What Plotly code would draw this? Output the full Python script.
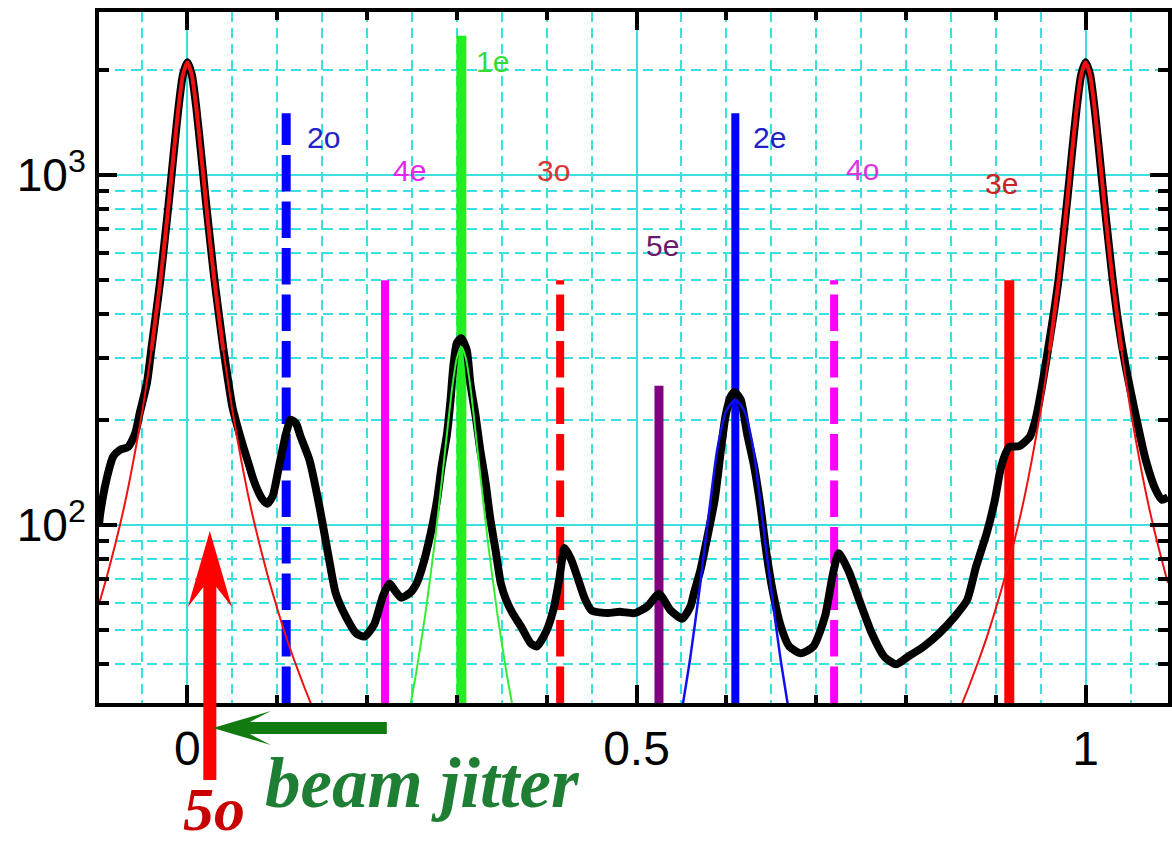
import math
import plotly.graph_objects as go

# ---------------- data ----------------
# measured spectrum (black)
spec_x = [-0.0984, -0.097, -0.090, -0.0825, -0.075, -0.066, -0.058, -0.053, -0.045, -0.040,
          -0.035, -0.030, -0.025, -0.020, -0.015, -0.010, -0.005, 0.000, 0.005, 0.010,
          0.015, 0.020, 0.025, 0.030, 0.035, 0.040, 0.045, 0.050, 0.056, 0.062,
          0.068, 0.073, 0.078, 0.084, 0.089, 0.095, 0.102, 0.110, 0.115, 0.121,
          0.126, 0.136, 0.147, 0.158, 0.165, 0.176, 0.188, 0.197, 0.208, 0.218,
          0.225, 0.231, 0.238, 0.248, 0.255, 0.261, 0.271, 0.278, 0.283, 0.289,
          0.293, 0.296, 0.300, 0.305, 0.311, 0.315, 0.321, 0.326, 0.332, 0.337,
          0.343, 0.349, 0.355, 0.362, 0.372, 0.382, 0.389, 0.400, 0.408, 0.414,
          0.420, 0.427, 0.435, 0.442, 0.450, 0.468, 0.481, 0.498, 0.512, 0.525,
          0.538, 0.551, 0.560, 0.564, 0.571, 0.576, 0.587, 0.594, 0.599, 0.605,
          0.609, 0.616, 0.623, 0.631, 0.638, 0.645, 0.652, 0.660, 0.670, 0.683,
          0.697, 0.710, 0.718, 0.725, 0.736, 0.749, 0.762, 0.776, 0.789, 0.802,
          0.820, 0.837, 0.855, 0.868, 0.878, 0.890, 0.899, 0.906, 0.915, 0.926,
          0.938, 0.945, 0.952, 0.960, 0.965, 0.970, 0.975, 0.980, 0.985, 0.990,
          0.995, 1.000, 1.005, 1.010, 1.015, 1.020, 1.025, 1.030, 1.035, 1.040,
          1.045, 1.056, 1.067, 1.078, 1.085, 1.0917]
spec_y = [100, 108, 135, 157, 164, 167, 183, 209, 255, 320,
          400, 505, 660, 870, 1170, 1550, 1930, 2100, 1930, 1550,
          1170, 870, 660, 505, 400, 320, 262, 218, 190, 168,
          150, 136, 126, 118, 115, 121, 147, 183, 200, 195,
          179, 153, 113, 79, 64, 55, 49, 48, 52, 63,
          68, 65, 62, 64, 68, 75, 95, 118, 147, 182,
          228, 283, 331, 342, 316, 254, 204, 164, 132, 105,
          85, 68, 61, 56, 51, 46, 45, 50, 58, 70,
          86, 80, 70, 62, 57, 56, 56.5, 56, 58.5, 63.5,
          57, 54, 58.5, 64, 74, 85, 118, 164, 204, 233,
          240, 228, 183, 147, 113, 82, 64, 52, 45, 43,
          45, 55, 71, 83, 74, 60, 49, 42, 40, 42,
          45, 49, 55, 61, 76, 95, 118, 147, 167, 168,
          179, 204, 254, 340, 410, 505, 660, 870, 1170, 1550,
          1930, 2100, 1930, 1550, 1170, 870, 660, 505, 400, 330,
          280, 204, 153, 126, 118, 120]

# fit around the 0 peak (red)
fit0_x = [-0.0984, -0.09, -0.08, -0.07, -0.06, -0.05, -0.04, -0.03, -0.025, -0.02,
          -0.015, -0.01, -0.005, 0.0, 0.005, 0.01, 0.015, 0.02, 0.025, 0.03,
          0.04, 0.05, 0.06, 0.07, 0.08, 0.09, 0.10, 0.11, 0.12, 0.13, 0.14]
fit0_y = [59.5, 70.7, 88.7, 114, 153, 213, 315, 501, 653, 869,
          1169, 1551, 1929, 2100, 1929, 1551, 1169, 869, 653, 501,
          315, 213, 153, 114, 88.7, 70.7, 57.7, 47.8, 40.4, 34.5, 29.8]
# fit around the 1 peak (red)
fit1_x = [0.86, 0.87, 0.88, 0.89, 0.90, 0.91, 0.92, 0.93, 0.94, 0.95,
          0.96, 0.97, 0.975, 0.98, 0.985, 0.99, 0.995, 1.0, 1.005, 1.01,
          1.015, 1.02, 1.025, 1.03, 1.04, 1.05, 1.06, 1.07, 1.08, 1.09, 1.0917]
fit1_y = [29.8, 34.5, 40.4, 47.8, 57.7, 70.7, 88.7, 114, 153, 213,
          315, 501, 653, 869, 1169, 1551, 1929, 2100, 1929, 1551,
          1169, 869, 653, 501, 315, 213, 153, 114, 88.7, 70.7, 68.3]
# fit of 1e (green)
fit1e_x = [0.245, 0.255, 0.265, 0.275, 0.285, 0.29, 0.295, 0.30, 0.305,
           0.31, 0.315, 0.32, 0.325, 0.335, 0.345, 0.355, 0.365]
fit1e_y = [27.5, 38.2, 55.9, 87.6, 147, 193, 249, 300, 323,
           300, 249, 193, 147, 87.6, 55.9, 38.2, 27.5]
# fit of 2e (blue)
fit2e_x = [0.55, 0.56, 0.57, 0.58, 0.59, 0.60, 0.61, 0.62, 0.63, 0.64, 0.65, 0.66, 0.67]
fit2e_y = [29, 42, 65, 105, 165, 212, 228, 212, 165, 105, 65, 42, 29]

# harmonic markers
harm_names = ['2o', '4e', '1e', '3o', '5e', '2e', '4o', '3e']
harm_x = [0.11, 0.22, 0.305, 0.415, 0.525, 0.61, 0.72, 0.915]
harm_top = [1500, 500, 2500, 500, 250, 1500, 500, 500]
harm_dashed = [True, False, False, True, False, False, True, False]
harm_color = ['#0000ff', '#ff00ff', '#22ee22', '#ff0000', '#800080', '#0000ff', '#ff00ff', '#ff0000']
harm_width = [9, 8, 10, 8, 9, 8, 8, 10]
label_x = [0.1517, 0.2471, 0.3397, 0.4079, 0.5288, 0.6486, 0.7512, 0.9065]
label_y = [1276, 1033, 2104, 1033, 627, 1276, 1040, 948]
label_color = ['#2222c8', '#ee22ee', '#33dd33', '#dd3333', '#6a1a6a', '#2222c8', '#dd33dd', '#cc2222']

jitter_x = 0.025  # position of the 5o line (beam jitter)

# ---------------- figure ----------------
x_range = [-0.0984, 1.0917]
y_range = [1.4914, 3.4657]
grid_c = '#3ddede'
ybot = 10 ** y_range[0]

fig = go.Figure()

for name, hx, top, dsh, col, w in zip(harm_names, harm_x, harm_top, harm_dashed, harm_color, harm_width):
    fig.add_trace(go.Scatter(x=[hx, hx], y=[ybot, top], mode='lines', name=name,
                             line=dict(color=col, width=w, dash='36.5px,10px' if dsh else 'solid'),
                             hoverinfo='skip'))

fig.add_trace(go.Scatter(x=spec_x, y=spec_y, mode='lines', name='data',
                         line=dict(color='black', width=8, shape='spline', smoothing=0.6)))

for fx, fy in [(fit0_x, fit0_y), (fit1_x, fit1_y)]:
    fig.add_trace(go.Scatter(x=fx, y=fy, mode='lines',
                             line=dict(color='#ee1111', width=2, shape='spline', smoothing=0.6)))
    c = fx[fy.index(max(fy))]
    cx = [a for a in fx if abs(a - c) <= 0.046]
    cy = [b for a, b in zip(fx, fy) if abs(a - c) <= 0.046]
    fig.add_trace(go.Scatter(x=cx, y=cy, mode='lines',
                             line=dict(color='#ee1111', width=4, shape='spline', smoothing=0.6)))

fig.add_trace(go.Scatter(x=fit1e_x, y=fit1e_y, mode='lines',
                         line=dict(color='#33ee33', width=2, shape='spline', smoothing=0.6)))
fig.add_trace(go.Scatter(x=fit2e_x, y=fit2e_y, mode='lines',
                         line=dict(color='#1010ee', width=2.5, shape='spline', smoothing=0.6)))

# dummy trace to activate the overlay axis carrying the dashed grid
fig.add_trace(go.Scatter(x=[0.5], y=[100], xaxis='x2', mode='markers',
                         marker=dict(opacity=0), hoverinfo='skip'))

annotations = []
for name, lx, ly, lc in zip(harm_names, label_x, label_y, label_color):
    annotations.append(dict(x=lx, y=math.log10(ly), xref='x', yref='y', text=name, showarrow=False,
                            xanchor='center', yanchor='middle',
                            font=dict(family='Liberation Sans, Arial', size=30, color=lc)))
annotations.append(dict(x=jitter_x, y=0, xref='x', yref='paper', xshift=4, yshift=-142,
                        text='<b><i>5o</i></b>', showarrow=False, xanchor='center', yanchor='bottom',
                        font=dict(family='Liberation Serif, Times New Roman', size=62, color='#c80000')))
annotations.append(dict(x=0.262, y=0, xref='x', yref='paper', yshift=-80,
                        text='<b><i>beam jitter</i></b>', showarrow=False, xanchor='center', yanchor='middle',
                        font=dict(family='Liberation Serif, Times New Roman', size=71, color='#1e7e34')))

shapes = [
    dict(type='path', xref='x', yref='paper', xsizemode='pixel', ysizemode='pixel',
         xanchor=jitter_x, yanchor=0, layer='above',
         path='M -6.5,-77 L -6.5,116 L -22,96 L 0,172 L 22,96 L 6.5,116 L 6.5,-77 Z',
         fillcolor='#ff0000', line=dict(width=0)),
    dict(type='path', xref='x', yref='paper', xsizemode='pixel', ysizemode='pixel',
         xanchor=jitter_x, yanchor=0, layer='above',
         path='M 3,-25 L 61,-8 L 40,-19 L 177,-19 L 177,-31 L 40,-31 L 61,-42 Z',
         fillcolor='#117a11', line=dict(width=0)),
]

dash_grid_x = [-0.05, 0.05, 0.1, 0.15, 0.2, 0.25, 0.3, 0.35, 0.4, 0.45,
               0.55, 0.6, 0.65, 0.7, 0.75, 0.8, 0.85, 0.9, 0.95, 1.05]

fig.update_layout(
    width=1172, height=845,
    margin=dict(l=99, r=0, t=12, b=142),
    paper_bgcolor='white', plot_bgcolor='white',
    showlegend=False,
    annotations=annotations,
    shapes=shapes,
    xaxis=dict(range=x_range, tickmode='array', tickvals=[0, 0.5, 1], ticktext=['0', '0.5', '1'],
               ticks='inside', ticklen=18, tickwidth=4, tickcolor='black',
               showline=True, linewidth=4, linecolor='black', mirror='ticks',
               showgrid=True, gridcolor=grid_c, gridwidth=1.5, zeroline=False,
               tickfont=dict(family='Liberation Sans, Arial', size=48, color='black'),
               minor=dict(tickmode='array', tickvals=[0.1, 0.2, 0.3, 0.4, 0.6, 0.7, 0.8, 0.9],
                          ticks='inside', ticklen=8, tickwidth=4, tickcolor='black', showgrid=False)),
    xaxis2=dict(overlaying='x', range=x_range, tickmode='array', tickvals=dash_grid_x,
                showgrid=True, gridcolor=grid_c, gridwidth=1.5, griddash='10px,6px',
                showticklabels=False, ticks='', showline=False, zeroline=False),
    yaxis=dict(type='log', range=y_range, tickmode='array', tickvals=[100, 1000],
               ticktext=['10<sup>2</sup>', '10<sup>3</sup>'],
               ticks='inside', ticklen=18, tickwidth=4, tickcolor='black',
               showline=True, linewidth=4, linecolor='black', mirror='ticks',
               showgrid=True, gridcolor=grid_c, gridwidth=1.5, zeroline=False,
               tickfont=dict(family='Liberation Sans, Arial', size=46, color='black'),
               minor=dict(tickmode='array',
                          tickvals=[40, 50, 60, 70, 80, 90, 200, 300, 400, 500, 600, 700, 800, 900, 2000],
                          ticks='inside', ticklen=10, tickwidth=4, tickcolor='black',
                          showgrid=True, gridcolor=grid_c, gridwidth=1.5, griddash='10px,6px')),
)

fig.write_html('out.html')
